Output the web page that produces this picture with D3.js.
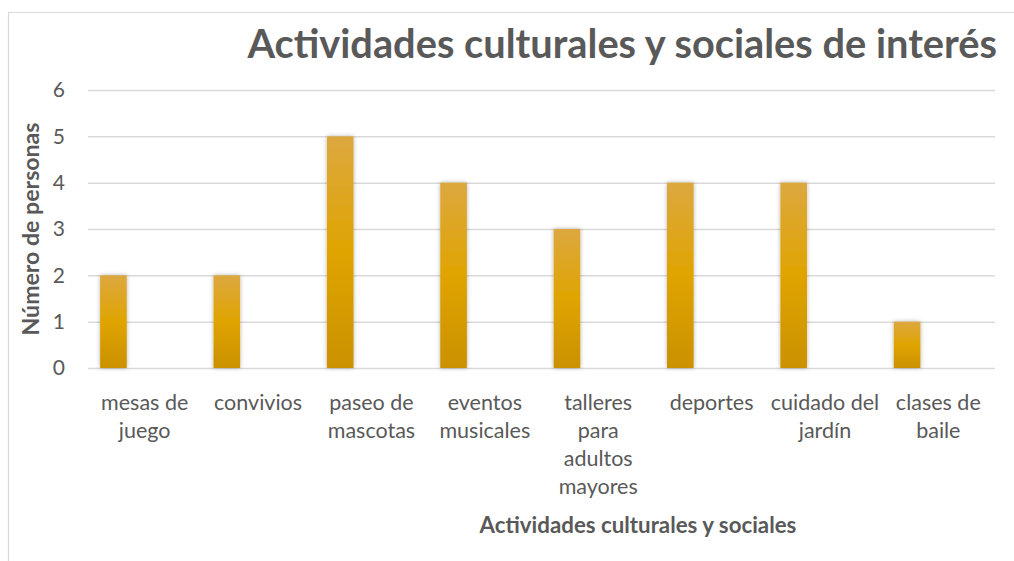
<!DOCTYPE html>
<html><head><meta charset="utf-8">
<script src="https://cdn.jsdelivr.net/npm/d3@7/dist/d3.min.js"></script>
<style>body{margin:0;background:#fff;} svg{display:block;font-family:Lato,"Open Sans",sans-serif;}</style>
</head><body>
<svg id="c" width="1014" height="561"></svg>
<script>
const categories = [["mesas de","juego"],["convivios"],["paseo de","mascotas"],["eventos","musicales"],["talleres","para","adultos","mayores"],["deportes"],["cuidado del","jardín"],["clases de","baile"]];
const values = [2,2,5,4,3,4,4,1];
const yTicks = [0,1,2,3,4,5,6];
const title = "Actividades culturales y sociales de interés";
const xTitle = "Actividades culturales y sociales";
const yTitle = "Número de personas";

const svg = d3.select("#c");
const W = 1014, H = 561;
const m = {l:88, r:19, t:90, b:193};
const x = d3.scaleBand().domain(d3.range(categories.length)).range([m.l, W - m.r]).paddingInner(0).paddingOuter(0);
const y = d3.scaleLinear().domain([0,6]).range([H - m.b, m.t]);

const defs = svg.append("defs");
const g = defs.append("linearGradient").attr("id","bg").attr("x1",0).attr("y1",0).attr("x2",0).attr("y2",1);
g.append("stop").attr("offset","0%").attr("stop-color","#DCA840");
g.append("stop").attr("offset","50%").attr("stop-color","#DFA400");
g.append("stop").attr("offset","100%").attr("stop-color","#CB9100");
const f = defs.append("filter").attr("id","sh").attr("x","-50%").attr("y","-10%").attr("width","200%").attr("height","120%");
f.append("feDropShadow").attr("dx",0).attr("dy",0).attr("stdDeviation",2.2).attr("flood-color","#000").attr("flood-opacity",0.3);

// frame
svg.append("path").attr("d","M8.5,561 V12.5 H1014").attr("fill","none").attr("stroke","#d9d9d9").attr("stroke-width",1.2);

// grid
const yAxis = d3.axisLeft(y).tickValues(yTicks).tickSize(-(W - m.r - m.l)).tickPadding(23).tickFormat(d3.format("d"));
const ya = svg.append("g").attr("transform",`translate(${m.l},0)`).call(yAxis);
ya.select(".domain").remove();
ya.selectAll(".tick line").attr("stroke","#d9d9d9").attr("stroke-width",1.5);
ya.selectAll(".tick text").attr("fill","#595959").style("font-size","21px").style("font-family","Lato,sans-serif");

// bars
const bw = x.bandwidth() * 0.235, off = x.bandwidth() * 0.107;
svg.append("g").selectAll("rect").data(values).join("rect")
  .attr("x",(d,i)=>x(i)+off).attr("width",bw)
  .attr("y",d=>y(d)).attr("height",d=>y(0)-y(d))
  .attr("fill","url(#bg)").attr("filter","url(#sh)");

// category labels
const xa = d3.axisBottom(x).tickSize(0).tickFormat("");
const xg = svg.append("g").attr("transform",`translate(0,${y(0)})`).call(xa);
xg.select(".domain").remove();
xg.selectAll(".tick").each(function(i){
  const t = d3.select(this).append("text").attr("fill","#595959").attr("text-anchor","middle")
    .style("font-size","21.5px").style("font-family","Lato,sans-serif");
  categories[i].forEach((s,k)=>t.append("tspan").attr("x",0).attr("y",42 + k*28).text(s));
});

// title
const tt = svg.append("text").attr("x",997).attr("y",58).attr("text-anchor","end")
  .attr("fill","#595959").style("font-weight","bold").style("font-size","36px").text(title);
const tw = tt.node().getComputedTextLength();
tt.style("font-size",(36*750/tw)+"px");

// axis titles
const xt = svg.append("text").attr("x",638).attr("y",533).attr("text-anchor","middle")
  .attr("fill","#595959").style("font-weight","bold").style("font-size","17px").text(xTitle);
const xw = xt.node().getComputedTextLength();
xt.style("font-size",(17*317/xw)+"px");

const yt = svg.append("text").attr("transform","translate(39,229) rotate(-90)").attr("text-anchor","middle")
  .attr("fill","#595959").style("font-weight","bold").style("font-size","17px").text(yTitle);
const yw = yt.node().getComputedTextLength();
yt.style("font-size",(17*213/yw)+"px");
</script>
</body></html>
